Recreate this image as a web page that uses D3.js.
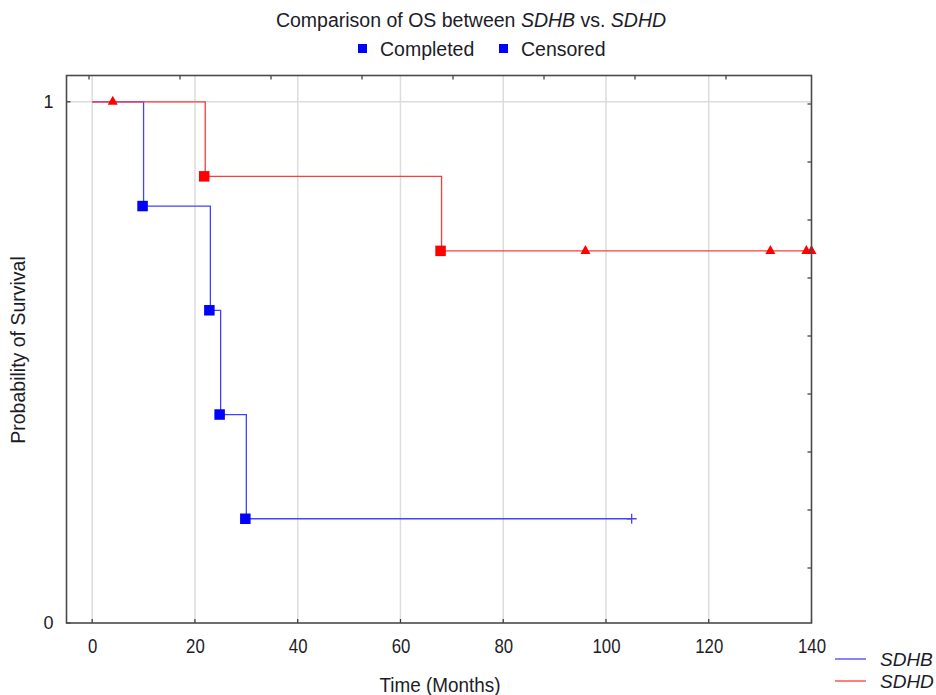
<!DOCTYPE html>
<html>
<head>
<meta charset="utf-8">
<script src="https://cdn.jsdelivr.net/npm/d3@7"></script>
<style>
  html, body { margin: 0; padding: 0; background: #fff; }
  svg { display: block; }
  text { font-family: Arial, "Liberation Sans", sans-serif; fill: #1c1c28; }
</style>
</head>
<body>
<svg id="chart" width="936" height="695"></svg>
<script>
// Kaplan-Meier overall survival, SDHB vs SDHD
const sdhbTimes = [0, 10, 23, 25, 30, 105];
const sdhbSurv  = [1, 0.8, 0.6, 0.4, 0.2, 0.2];
const sdhbEventTimes = [10, 23, 25, 30];
const sdhbEventSurv  = [0.8, 0.6, 0.4, 0.2];
const sdhbCensorTimes = [105];
const sdhbCensorSurv  = [0.2];

const sdhdTimes = [0, 22, 68, 140];
const sdhdSurv  = [1, 0.857, 0.714, 0.714];
const sdhdEventTimes = [22, 68];
const sdhdEventSurv  = [0.857, 0.714];
const sdhdCensorTimes = [4, 96, 132, 139, 140];
const sdhdCensorSurv  = [1, 0.714, 0.714, 0.714, 0.714];

const xTicks = [0, 20, 40, 60, 80, 100, 120, 140];
const yTicks = [0, 1];
const seriesNames = ["SDHB", "SDHD"];
const legendLabels = ["Completed", "Censored"];

const svg = d3.select("#chart");
const plotL = 66.5, plotR = 811.5, plotT = 75.5, plotB = 623;

const x = d3.scaleLinear().domain([-5, 140]).range([plotL, plotR]);
const y = d3.scaleLinear().domain([0, 1.0505]).range([plotB, plotT]);

const blueLine = "#4343ff", blueMark = "#0000ff";
const redLine = "#ff3a3a", redMark = "#ff0000";

// grid
svg.append("g").selectAll("line").data(xTicks.filter(d => d < 140)).join("line")
  .attr("x1", d => x(d)).attr("x2", d => x(d))
  .attr("y1", plotT).attr("y2", plotB)
  .attr("stroke", "#dcdcdc").attr("stroke-width", 1.5);
svg.append("g").selectAll("line").data(yTicks.filter(d => d > 0)).join("line")
  .attr("x1", plotL).attr("x2", plotR)
  .attr("y1", d => y(d)).attr("y2", d => y(d))
  .attr("stroke", "#dcdcdc").attr("stroke-width", 1.5);

// secondary scales for the inner ticks on the top and right edges
const xTop = d3.scaleLinear().domain([0, 8]).range([89, 817]);
const yRight = d3.scaleLinear().domain([0, 9]).range([626, 104]);

// axes (condensed tick labels on x)
const xAxis = d3.axisBottom(x).tickValues(xTicks).tickSize(0).tickPadding(0);
const gx = svg.append("g").attr("transform", `translate(0,${plotB})`).call(xAxis);
gx.select(".domain").remove();
gx.selectAll("text")
  .attr("dy", null).attr("y", 0)
  .attr("transform", "translate(0,30) scale(0.84,1)")
  .attr("font-size", 20).attr("fill", "#1c1c28");

const yAxis = d3.axisLeft(y).tickValues(yTicks).tickFormat(d3.format("d")).tickSize(0).tickPadding(13);
const gy = svg.append("g").attr("transform", `translate(${plotL},0)`).call(yAxis);
gy.select(".domain").remove();
gy.selectAll("text").attr("font-size", 18).attr("fill", "#1c1c28");

const tickCol = "#333";
svg.append("g").selectAll("line").data(xTicks).join("line")
  .attr("x1", d => x(d)).attr("x2", d => x(d)).attr("y1", plotB).attr("y2", plotB - 4)
  .attr("stroke", tickCol).attr("stroke-width", 1.2);
svg.append("g").selectAll("line").data(d3.range(0, 8)).join("line")
  .attr("x1", d => xTop(d)).attr("x2", d => xTop(d)).attr("y1", plotT).attr("y2", plotT + 4)
  .attr("stroke", tickCol).attr("stroke-width", 1.2);
svg.append("g").selectAll("line").data(d3.range(1, 10)).join("line")
  .attr("x1", plotR).attr("x2", plotR - 4).attr("y1", d => yRight(d)).attr("y2", d => yRight(d))
  .attr("stroke", tickCol).attr("stroke-width", 1.2);
svg.append("g").selectAll("line").data(yTicks).join("line")
  .attr("x1", plotL).attr("x2", plotL + 4).attr("y1", d => y(d)).attr("y2", d => y(d))
  .attr("stroke", tickCol).attr("stroke-width", 1.2);

// survival curves
const step = d3.line().curve(d3.curveStepAfter).x(d => x(d[0])).y(d => y(d[1]));
const sdhb = d3.zip(sdhbTimes, sdhbSurv);
const sdhd = d3.zip(sdhdTimes, sdhdSurv);

svg.append("path").datum(sdhb).attr("d", step)
  .attr("fill", "none").attr("stroke", blueLine).attr("stroke-width", 1.3);
svg.append("path").datum(sdhd).attr("d", step)
  .attr("fill", "none").attr("stroke", redLine).attr("stroke-width", 1.3);

// event markers (squares)
const sq = 10.5;
svg.append("g").selectAll("rect").data(d3.zip(sdhbEventTimes, sdhbEventSurv)).join("rect")
  .attr("x", d => x(d[0]) - sq / 2 - 1).attr("y", d => y(d[1]) - sq / 2)
  .attr("width", sq).attr("height", sq).attr("fill", blueMark);
svg.append("g").selectAll("rect").data(d3.zip(sdhdEventTimes, sdhdEventSurv)).join("rect")
  .attr("x", d => x(d[0]) - sq / 2 - 1).attr("y", d => y(d[1]) - sq / 2)
  .attr("width", sq).attr("height", sq).attr("fill", redMark);

// censored markers
svg.append("g").selectAll("path").data(d3.zip(sdhdCensorTimes, sdhdCensorSurv)).join("path")
  .attr("d", d => {
    const cx = x(d[0]), cy = y(d[1]);
    return `M${cx - 5},${cy + 3}L${cx},${cy - 6}L${cx + 5},${cy + 3}Z`;
  })
  .attr("fill", redMark);
svg.append("g").selectAll("path").data(d3.zip(sdhbCensorTimes, sdhbCensorSurv)).join("path")
  .attr("d", d => {
    const cx = x(d[0]), cy = y(d[1]);
    return `M${cx - 5},${cy}L${cx + 5},${cy}M${cx},${cy - 5}L${cx},${cy + 5}`;
  })
  .attr("stroke", blueLine).attr("stroke-width", 1.3).attr("fill", "none");

// frame
svg.append("rect").attr("x", plotL).attr("y", plotT)
  .attr("width", plotR - plotL).attr("height", plotB - plotT)
  .attr("fill", "none").attr("stroke", "#4a4a4a").attr("stroke-width", 1.6);

// title
const title = svg.append("text").attr("x", 471).attr("y", 27)
  .attr("text-anchor", "middle").attr("font-size", 19.5);
title.append("tspan").text("Comparison of OS between ");
title.append("tspan").attr("font-style", "italic").text(seriesNames[0]);
title.append("tspan").text(" vs. ");
title.append("tspan").attr("font-style", "italic").text(seriesNames[1]);

// top legend
const legX = [358, 499];
const lg = svg.append("g");
legendLabels.forEach((lab, i) => {
  lg.append("rect").attr("x", legX[i]).attr("y", 44).attr("width", 9).attr("height", 9).attr("fill", blueMark);
  lg.append("text").attr("x", legX[i] + 22).attr("y", 56).attr("font-size", 19.5).text(lab);
});

// axis titles
svg.append("text").attr("transform", "translate(440,692) scale(0.9,1)").attr("text-anchor", "middle")
  .attr("font-size", 21).text("Time (Months)");
svg.append("text").attr("transform", "translate(25,350) rotate(-90)")
  .attr("text-anchor", "middle").attr("font-size", 19.5).text("Probability of Survival");

// series legend
const seriesCols = [blueLine, redLine];
seriesNames.forEach((name, i) => {
  const yy = 659 + i * 22;
  svg.append("line").attr("x1", 835).attr("x2", 866).attr("y1", yy).attr("y2", yy)
    .attr("stroke", seriesCols[i]).attr("stroke-width", 1.3);
  svg.append("text").attr("x", 880).attr("y", yy + 7).attr("font-size", 19)
    .attr("font-style", "italic").text(name);
});
</script>
</body>
</html>
